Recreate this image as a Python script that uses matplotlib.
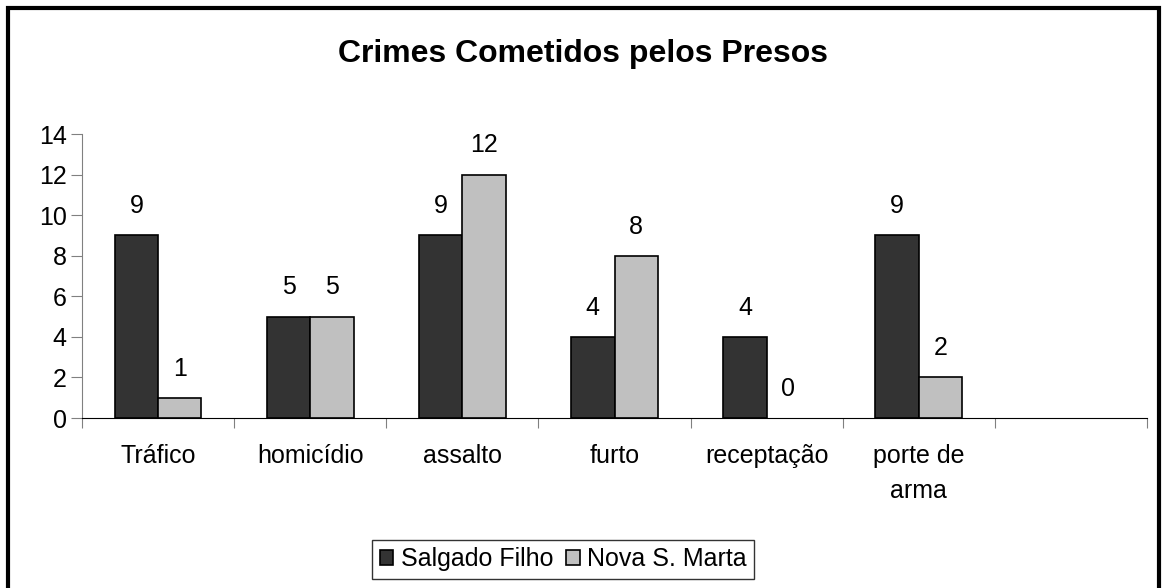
import matplotlib
matplotlib.use("Agg")
import matplotlib.pyplot as plt
import numpy as np
from matplotlib.patches import Rectangle

plt.rcParams["font.family"] = ["Liberation Sans", "DejaVu Sans"]

categories = ["Tráfico", "homicídio", "assalto", "furto", "receptação", "porte de\narma", ""]
salgado_filho = [9, 5, 9, 4, 4, 9]
nova_s_marta = [1, 5, 12, 8, 0, 2]
series_names = ["Salgado Filho", "Nova S. Marta"]
y_ticks = [0, 2, 4, 6, 8, 10, 12, 14]

FS = 18

fig = plt.figure(figsize=(11.67, 5.88), dpi=100)
ax = fig.add_axes([0.0703, 0.289, 0.9126, 0.483])

# moldura externa do gráfico
fig.patches.append(Rectangle((0.0068, -0.02), 0.9862, 1.0065, transform=fig.transFigure,
                             fill=False, edgecolor="black", linewidth=3))

w = 0.285
x = np.arange(len(salgado_filho)) + 0.5
b1 = ax.bar(x - w / 2, salgado_filho, w, color="#333333", edgecolor="black",
            linewidth=1.2, label=series_names[0])
b2 = ax.bar(x + w / 2, nova_s_marta, w, color="#C0C0C0", edgecolor="black",
            linewidth=1.2, label=series_names[1])

for bars in (b1, b2):
    for r in bars:
        if r.get_height() == 0:
            r.set_linewidth(0)
        ax.annotate(f"{int(r.get_height())}", (r.get_x() + r.get_width() / 2, r.get_height()),
                    xytext=(0, 21), textcoords="offset points", ha="center", va="center",
                    fontsize=FS)

ax.set_xlim(0, len(categories))
ax.set_ylim(0, 14)
ax.set_yticks(y_ticks)
ax.tick_params(axis="y", labelsize=FS, length=8, color="#808080", pad=3)
ax.set_xticks(np.arange(len(categories) + 1))
ax.set_xticklabels([])
ax.tick_params(axis="x", length=7, color="#808080")
ax.set_xticks(np.arange(len(categories)) + 0.5, minor=True)
ax.set_xticklabels(categories, minor=True, fontsize=FS, va="top", linespacing=1.55)
ax.tick_params(axis="x", which="minor", length=0, pad=19)

for s in ("top", "right"):
    ax.spines[s].set_visible(False)
ax.spines["left"].set_color("#808080")
ax.spines["bottom"].set_color("black")

fig.text(0.5, 0.908, "Crimes Cometidos pelos Presos", ha="center", va="center",
         fontsize=23, fontweight="bold")

leg = fig.legend(loc="center", bbox_to_anchor=(0.4825, 0.049), ncol=2, fontsize=FS,
                 frameon=True, fancybox=False, edgecolor="black", handlelength=0.55,
                 handleheight=0.55, handletextpad=0.3, columnspacing=0.5, borderpad=0.3)
leg.get_frame().set_linewidth(1.0)

fig.savefig("out.png", dpi=100)
